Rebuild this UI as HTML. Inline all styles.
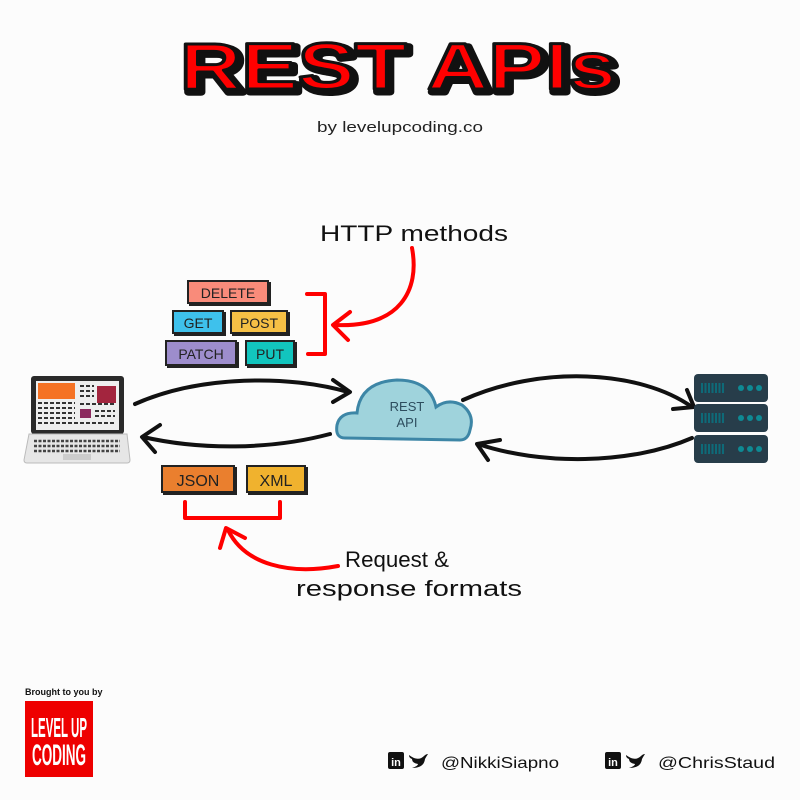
<!DOCTYPE html>
<html><head><meta charset="utf-8"><style>
html,body{margin:0;padding:0;background:#fcfcfc;}
svg{display:block}
text{font-family:"Liberation Sans",sans-serif;}
</style></head><body>
<svg width="800" height="800" viewBox="0 0 800 800" xmlns="http://www.w3.org/2000/svg">
<rect width="800" height="800" fill="#fcfcfc"/>
<!-- title -->
<text x="398" y="89" text-anchor="middle" font-size="66" font-weight="bold" fill="#111" stroke="#111" stroke-width="7" stroke-linejoin="round" textLength="436" lengthAdjust="spacingAndGlyphs" transform="translate(3,3)">REST APIs</text>
<text x="398" y="89" text-anchor="middle" font-size="66" font-weight="bold" fill="#f00" stroke="#111" stroke-width="3" stroke-linejoin="round" textLength="436" lengthAdjust="spacingAndGlyphs">REST APIs</text>
<text x="400" y="132" text-anchor="middle" font-size="15" fill="#222" textLength="166" lengthAdjust="spacingAndGlyphs">by levelupcoding.co</text>

<text x="414" y="241" text-anchor="middle" font-size="22" fill="#111" textLength="188" lengthAdjust="spacingAndGlyphs">HTTP methods</text>

<!-- method boxes -->
<g font-size="14" text-anchor="middle" fill="#222" stroke="#222" stroke-width="2">
<rect x="190" y="283" width="80" height="22" fill="#222"/><rect x="188" y="281" width="80" height="22" fill="#f98b7a"/>
<rect x="175" y="313" width="50" height="22" fill="#222"/><rect x="173" y="311" width="50" height="22" fill="#3ec1ec"/>
<rect x="233" y="313" width="56" height="22" fill="#222"/><rect x="231" y="311" width="56" height="22" fill="#f6c045"/>
<rect x="168" y="343" width="70" height="24" fill="#222"/><rect x="166" y="341" width="70" height="24" fill="#9d8dcc"/>
<rect x="248" y="343" width="48" height="24" fill="#222"/><rect x="246" y="341" width="48" height="24" fill="#12c5be"/>
<rect x="164" y="468" width="72" height="26" fill="#222"/><rect x="162" y="466" width="72" height="26" fill="#ea7f2e"/>
<rect x="249" y="468" width="58" height="26" fill="#222"/><rect x="247" y="466" width="58" height="26" fill="#f0b22e"/>
</g>
<g font-size="14" text-anchor="middle" fill="#222">
<text x="228" y="298">DELETE</text>
<text x="198" y="328">GET</text>
<text x="259" y="328">POST</text>
<text x="201" y="359">PATCH</text>
<text x="270" y="359">PUT</text>
<text x="198" y="486" font-size="16">JSON</text>
<text x="276" y="486" font-size="16">XML</text>
</g>

<!-- red brackets & arrows -->
<g fill="none" stroke="#f00" stroke-width="4" stroke-linecap="round" stroke-linejoin="round">
<path d="M307 294 H325 V354 H308"/>
<path d="M412 248 C420 290 400 328 335 325"/>
<path d="M350 312 L333 325 L348 340"/>
<path d="M185 502 V518 H280 V502"/>
<path d="M338 566 C290 575 245 565 228 530"/>
<path d="M220 548 L226 528 L245 538"/>
</g>
<text x="397" y="567" text-anchor="middle" font-size="22" fill="#111" textLength="104" lengthAdjust="spacingAndGlyphs">Request &amp;</text>
<text x="409" y="596" text-anchor="middle" font-size="22" fill="#111" textLength="226" lengthAdjust="spacingAndGlyphs">response formats</text>

<!-- black arrows -->
<g fill="none" stroke="#111" stroke-width="4" stroke-linecap="round" stroke-linejoin="round">
<path d="M135 404 C200 375 290 375 348 392"/>
<path d="M333 380 L350 392 L333 402"/>
<path d="M330 434 C270 450 200 450 143 437"/>
<path d="M160 425 L142 437 L155 452"/>
<path d="M463 400 C540 365 640 370 692 407"/>
<path d="M687 390 L694 407 L673 409"/>
<path d="M692 438 C630 465 540 465 478 444"/>
<path d="M500 440 L477 444 L488 460"/>
</g>

<!-- laptop -->
<rect x="31" y="376" width="93" height="58" rx="3" fill="#2a2a2a"/>
<rect x="36" y="381" width="83" height="49" fill="#eee"/>
<rect x="38" y="383" width="37" height="16" fill="#f57224"/>
<rect x="97" y="386" width="19" height="17" fill="#a3253e"/>
<rect x="80" y="409" width="11" height="9" fill="#8b2a5e"/>
<g stroke="#333" stroke-width="2" stroke-dasharray="4 2">
<line x1="38" y1="403" x2="75" y2="403"/><line x1="38" y1="408" x2="75" y2="408"/><line x1="38" y1="413" x2="75" y2="413"/><line x1="38" y1="418" x2="75" y2="418"/><line x1="38" y1="423" x2="115" y2="423"/>
<line x1="80" y1="386" x2="94" y2="386"/><line x1="80" y1="391" x2="94" y2="391"/><line x1="80" y1="396" x2="94" y2="396"/><line x1="80" y1="404" x2="115" y2="404"/><line x1="95" y1="411" x2="115" y2="411"/><line x1="95" y1="416" x2="115" y2="416"/>
</g>
<path d="M29 434 H127 L130 460 Q130 463 127 463 H27 Q24 463 24 460 Z" fill="#e6e6e6" stroke="#bbb"/>
<g stroke="#444" stroke-width="2.5" stroke-dasharray="3 1.5"><line x1="34" y1="441" x2="120" y2="441"/><line x1="34" y1="446" x2="120" y2="446"/><line x1="34" y1="451" x2="120" y2="451"/></g>
<rect x="63" y="454" width="28" height="6" fill="#ccc"/>

<!-- cloud -->
<path d="M345 438 Q335 438 337 425 Q340 412 357 413 Q360 382 397 380 Q430 380 436 407 Q448 398 462 405 Q475 415 470 430 Q468 440 460 440 Z" fill="#9fd3dc" stroke="#3d86a6" stroke-width="3"/>
<text x="407" y="411" text-anchor="middle" font-size="13" fill="#2d4d5e">REST</text>
<text x="407" y="427" text-anchor="middle" font-size="13" fill="#2d4d5e">API</text>

<!-- server -->
<g fill="#273d4a">
<rect x="694" y="374" width="74" height="28" rx="4"/>
<rect x="694" y="404" width="74" height="28" rx="4"/>
<rect x="694" y="435" width="74" height="28" rx="4"/>
</g>
<g fill="#0e8a94">
<circle cx="741" cy="388" r="3"/><circle cx="750" cy="388" r="3"/><circle cx="759" cy="388" r="3"/>
<circle cx="741" cy="418" r="3"/><circle cx="750" cy="418" r="3"/><circle cx="759" cy="418" r="3"/>
<circle cx="741" cy="449" r="3"/><circle cx="750" cy="449" r="3"/><circle cx="759" cy="449" r="3"/>
</g>
<g stroke="#0e6a78" stroke-width="10" stroke-dasharray="2 1.5">
<line x1="701" y1="388" x2="724" y2="388"/><line x1="701" y1="418" x2="724" y2="418"/><line x1="701" y1="449" x2="724" y2="449"/>
</g>

<!-- footer -->
<text x="25" y="695" font-size="9" font-weight="bold" fill="#111">Brought to you by</text>
<rect x="25" y="701" width="68" height="76" fill="#ee0000"/>
<text x="59" y="737" text-anchor="middle" font-size="28" font-weight="bold" fill="#fff" textLength="56" lengthAdjust="spacingAndGlyphs">LEVEL UP</text>
<text x="59" y="765" text-anchor="middle" font-size="30" font-weight="bold" fill="#fff" textLength="54" lengthAdjust="spacingAndGlyphs">CODING</text>

<rect x="388" y="752" width="16" height="17" rx="2" fill="#111"/>
<text x="396" y="766" text-anchor="middle" font-size="11" font-weight="bold" fill="#fff">in</text>
<path d="M409 755 Q418 762 424 756 Q426 754 428 754 Q426 757 425 759 Q424 768 412 768 Q418 766 418 764 Q412 763 412 759 Q409 758 409 755Z" fill="#111"/>
<text x="441" y="768" font-size="16" fill="#111" textLength="118" lengthAdjust="spacingAndGlyphs">@NikkiSiapno</text>
<rect x="605" y="752" width="16" height="17" rx="2" fill="#111"/>
<text x="613" y="766" text-anchor="middle" font-size="11" font-weight="bold" fill="#fff">in</text>
<path d="M626 755 Q635 762 641 756 Q643 754 645 754 Q643 757 642 759 Q641 768 629 768 Q635 766 635 764 Q629 763 629 759 Q626 758 626 755Z" fill="#111"/>
<text x="658" y="768" font-size="16" fill="#111" textLength="117" lengthAdjust="spacingAndGlyphs">@ChrisStaud</text>
</svg>
</body></html>
